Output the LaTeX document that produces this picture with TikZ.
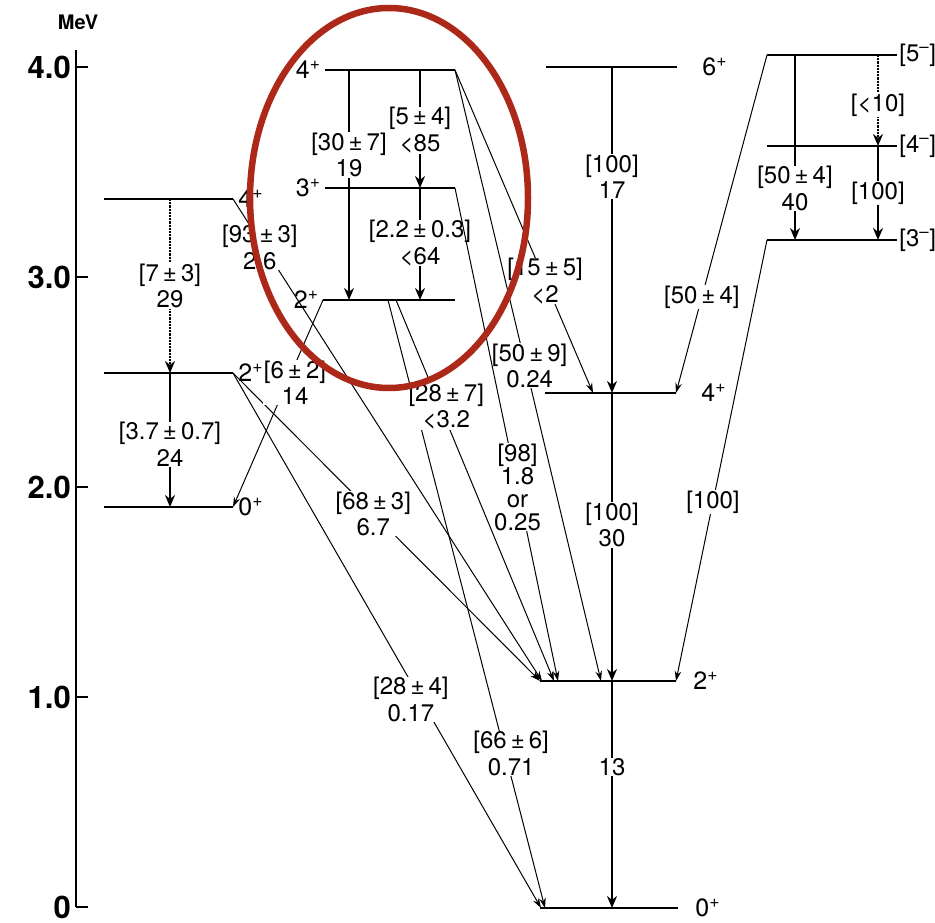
\documentclass[tikz,border=0pt]{standalone}
\usepackage{fontspec}
\setmainfont{TeX Gyre Heros}
\usetikzlibrary{arrows.meta}
\definecolor{ringred}{RGB}{172,40,24}

\begin{document}
\begin{tikzpicture}[
    x=1pt, y=-1pt,
    lvl/.style={line width=2.8pt},
    tr/.style={line width=2.5pt, -{Stealth[length=12pt,width=10pt]}},
    trdot/.style={line width=2.2pt, densely dotted, -{Stealth[length=12pt,width=10pt]}},
    dg/.style={line width=1pt, -{Stealth[length=10pt,width=6.5pt]}},
    lbl/.style={fill=white, inner sep=0.5pt, align=center, font=\fontsize{24}{26.5}\selectfont},
    spinr/.style={right, inner sep=4pt, font=\fontsize{25}{28}\selectfont},
    spinl/.style={left, inner sep=3pt, font=\fontsize{25}{28}\selectfont},
    tick/.style={left, inner sep=3pt, font=\fontsize{31}{32}\selectfont\bfseries}
]
\useasboundingbox (0,0) rectangle (935,923);

% energy axis
\draw[line width=1.6pt] (76,50) -- (76,907);
\foreach \e/\t in {0/0, 1/1.0, 2/2.0, 3/3.0, 4/4.0} {
  \draw[line width=1.6pt] (76,907-210*\e) -- ++(12,0);
  \node[tick] at (74,907-210*\e) {\t};
}
\node[font=\fontsize{20}{21}\selectfont\bfseries] (mev) at (78,22) {MeV};

% level ends
\coordinate (a4l) at (104,199); \coordinate (a4r) at (233,199);
\coordinate (a2l) at (104,373); \coordinate (a2r) at (233,373);
\coordinate (a0l) at (104,507); \coordinate (a0r) at (233,507);
\coordinate (b4l) at (325,70);  \coordinate (b4r) at (455,70);
\coordinate (b3l) at (325,188); \coordinate (b3r) at (455,188);
\coordinate (b2l) at (323,300); \coordinate (b2r) at (455,300);
\coordinate (c6l) at (546,67);  \coordinate (c6r) at (677,67);
\coordinate (c4l) at (545,393); \coordinate (c4r) at (676,393);
\coordinate (c2l) at (540,681); \coordinate (c2r) at (676,681);
\coordinate (c0l) at (540,908); \coordinate (c0r) at (678,908);
\coordinate (d5l) at (767,55);  \coordinate (d5r) at (897,55);
\coordinate (d4l) at (767,146); \coordinate (d4r) at (897,146);
\coordinate (d3l) at (767,240); \coordinate (d3r) at (897,240);

% levels
\draw[lvl] (a4l) -- (a4r) node[spinr] {4\textsuperscript{+}};
\draw[lvl] (a2l) -- (a2r) node[spinr] {2\textsuperscript{+}};
\draw[lvl] (a0l) -- (a0r) node[spinr] {0\textsuperscript{+}};
\draw[lvl] (b4r) -- (b4l) node[spinl] {4\textsuperscript{+}};
\draw[lvl] (b3r) -- (b3l) node[spinl] {3\textsuperscript{+}};
\draw[lvl] (b2r) -- (b2l) node[spinl] {2\textsuperscript{+}};
\draw[lvl] (c6l) -- (c6r) node[spinr,xshift=20pt] {6\textsuperscript{+}};
\draw[lvl] (c4l) -- (c4r) node[spinr,xshift=20pt] {4\textsuperscript{+}};
\draw[lvl] (c2l) -- (c2r) node[spinr,xshift=12pt] {2\textsuperscript{+}};
\draw[lvl] (c0l) -- (c0r) node[spinr,xshift=12pt] {0\textsuperscript{+}};
\draw[lvl] (d5l) -- (d5r) node[spinr,inner sep=1pt,font=\fontsize{24}{28}\selectfont] {[5\textsuperscript{--}]};
\draw[lvl] (d4l) -- (d4r) node[spinr,inner sep=1pt,font=\fontsize{24}{28}\selectfont] {[4\textsuperscript{--}]};
\draw[lvl] (d3l) -- (d3r) node[spinr,inner sep=1pt,font=\fontsize{24}{28}\selectfont] {[3\textsuperscript{--}]};

% transition ends
\coordinate (a4m) at (170,199); \coordinate (a2m) at (170,373); \coordinate (a0m) at (170,507);
\coordinate (b4m) at (349,70);  \coordinate (b2m) at (349,300);
\coordinate (b4n) at (420,70);  \coordinate (b3n) at (420,188); \coordinate (b2n) at (420,300);
\coordinate (b2o) at (388,300); \coordinate (b2p) at (396,300);
\coordinate (c6m) at (612,67);  \coordinate (c4m) at (612,393);
\coordinate (c2m) at (612,681); \coordinate (c0m) at (612,908);
\coordinate (c4a) at (593,393);
\coordinate (c2a) at (542,681); \coordinate (c2b) at (554,681);
\coordinate (c2c) at (558,681); \coordinate (c2d) at (601,681);
\coordinate (c0a) at (541,908); \coordinate (c0b) at (545,908);
\coordinate (d5m) at (795,55);  \coordinate (d3m) at (795,240);
\coordinate (d5n) at (878,55);  \coordinate (d4n) at (878,146); \coordinate (d3n) at (878,240);

% gamma transitions
\draw[trdot] (a4m) -- node[lbl] {[7\,±\,3]\\29} (a2m);
\draw[tr] (a2m) -- node[lbl,pos=0.53] {[3.7\,±\,0.7]\\24} (a0m);
\draw[dg] (a4r) -- node[lbl,pos=0.1,xshift=-4pt] {[93\,±\,3]\\2.6} (c2a);
\draw[dg] (a2r) -- node[lbl,pos=0.457] {[68\,±\,3]\\6.7} (c2l);
\draw[dg] (a2r) -- node[lbl,pos=0.61,xshift=-10pt] {[28\,±\,4]\\0.17} (c0a);
\draw[dg] (b2l) -- node[lbl,pos=0.4,xshift=8pt] {[6\,±\,2]\\14} (a0r);
\draw[tr] (b4m) -- node[lbl,pos=0.37] {[30\,±\,7]\\19} (b2m);
\draw[tr] (b4n) -- node[lbl,pos=0.51] {[5\,±\,4]\\<85} (b3n);
\draw[tr] (b3n) -- node[lbl,pos=0.49] {[2.2\,±\,0.3]\\<64} (b2n);
\draw[dg] (b2o) -- node[lbl,pos=0.746,xshift=6pt] {[66\,±\,6]\\0.71} (c0b);
\draw[dg] (b2p) -- node[lbl,pos=0.28,xshift=6pt] {[28\,±\,7]\\<3.2} (c2b);
\draw[dg] (b4r) -- node[lbl,pos=0.653] {[15\,±\,5]\\<2} (c4a);
\draw[dg] (b4r) -- node[lbl,pos=0.484,xshift=4pt] {[50\,±\,9]\\0.24} (c2d);
\draw[dg] (b3r) -- node[lbl,pos=0.607,font=\fontsize{24}{23}\selectfont] {[98]\\1.8\\or\\0.25} (c2c);
\draw[tr] (c6m) -- node[lbl,pos=0.337] {[100]\\17} (c4m);
\draw[tr] (c4m) -- node[lbl,pos=0.458] {[100]\\30} (c2m);
\draw[tr] (c2m) -- node[lbl,pos=0.38] {13} (c0m);
\draw[tr] (d5m) -- node[lbl,pos=0.72] {[50\,±\,4]\\40} (d3m);
\draw[trdot] (d5n) -- node[lbl,pos=0.55] {[<10]} (d4n);
\draw[tr] (d4n) -- node[lbl] {[100]} (d3n);
\draw[dg] (d5l) -- node[lbl,pos=0.716] {[50\,±\,4]} (c4r);
\draw[dg] (d3l) -- node[lbl,pos=0.594] {[100]} (c2r);

% highlight ring
\draw[ringred, line width=6.5pt] (389,198) ellipse [x radius=139pt, y radius=190pt];
\end{tikzpicture}
\end{document}
